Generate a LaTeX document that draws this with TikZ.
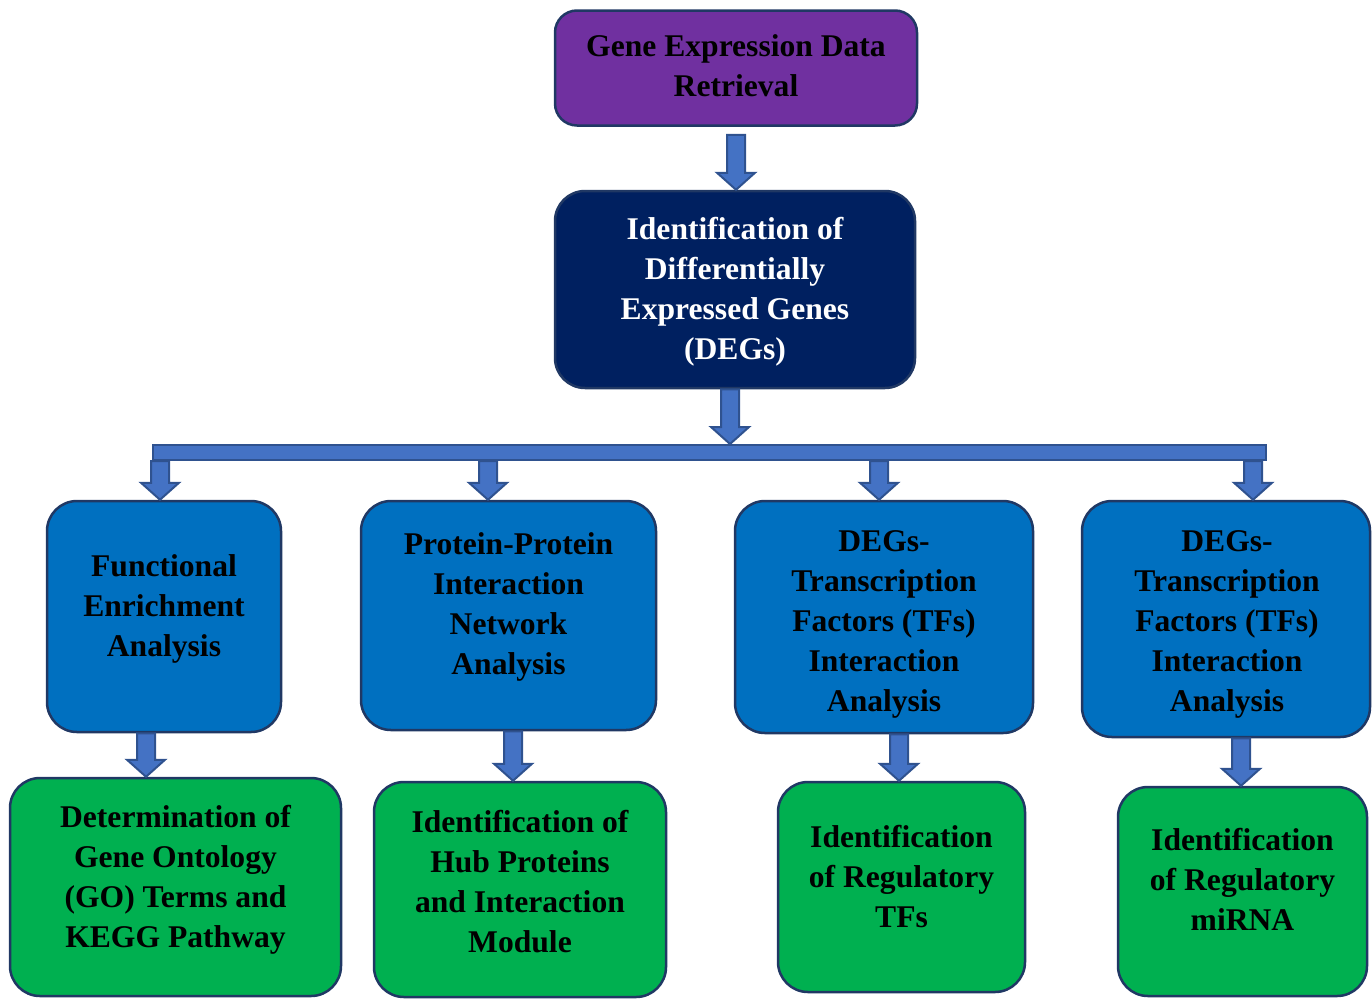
\documentclass[tikz,border=0pt]{standalone}
\usepackage{fontspec}
\setmainfont{Liberation Serif}
\usetikzlibrary{calc}
\definecolor{purp}{HTML}{7030A0}
\definecolor{navy}{HTML}{002060}
\definecolor{midblue}{HTML}{0070C0}
\definecolor{grn}{HTML}{00B050}
\definecolor{edge}{HTML}{203864}
\definecolor{arrfill}{HTML}{4472C4}
\definecolor{arredge}{HTML}{2F528F}
\tikzset{
  box/.style={draw=edge, line width=2.5pt, rounded corners=30pt, inner sep=0pt},
  txt/.style={align=center, font=\bfseries\fontsize{31.6}{40}\selectfont, inner sep=0pt, text=black},
  blk/.style={fill=arrfill, draw=arredge, line width=2pt, line join=miter},
}
\newcommand\blockarr[2]{\draw[blk] let \p1=(#1), \p2=(#2) in
  (\x1-9pt,\y1) -- (\x1+9pt,\y1) -- (\x1+9pt,\y2+17pt) -- (\x1+19pt,\y2+17pt)
  -- (\x1,\y2) -- (\x1-19pt,\y2+17pt) -- (\x1-9pt,\y2+17pt) -- cycle;}
\begin{document}
\begin{tikzpicture}[x=1pt,y=-1pt]
\useasboundingbox (0,0) rectangle (1372,999);
% top boxes
\node[box, fill=purp, rounded corners=22pt, minimum width=362pt, minimum height=115pt] (ret) at (736,68) {};
\node[txt] (rett) at (736,66) {Gene Expression Data\\Retrieval};
\node[box, fill=navy, minimum width=360pt, minimum height=197pt] (deg) at (735,289.5) {};
\node[txt, text=white] (degt) at (735,292) {Identification of\\Differentially\\Expressed Genes\\(DEGs)};
% bar
\node[blk, inner sep=0pt, minimum width=1113pt, minimum height=15pt] (bar) at (709.5,452.5) {};
% blue boxes
\node[box, fill=midblue, minimum width=234pt, minimum height=231pt] (fa) at (164,616.5) {};
\node[txt] (fat) at (164,609) {Functional\\Enrichment\\Analysis};
\node[box, fill=midblue, minimum width=295pt, minimum height=229pt] (fb) at (508.5,615.5) {};
\node[txt] (fbt) at (508.5,607) {Protein-Protein\\Interaction\\Network\\Analysis};
\node[box, fill=midblue, minimum width=298pt, minimum height=232pt] (fc) at (884,617) {};
\node[txt] (fct) at (884,624.5) {DEGs-\\Transcription\\Factors (TFs)\\Interaction\\Analysis};
\node[box, fill=midblue, minimum width=288pt, minimum height=236pt] (fd) at (1226,619) {};
\node[txt] (fdt) at (1227,624.5) {DEGs-\\Transcription\\Factors (TFs)\\Interaction\\Analysis};
% green boxes
\node[box, fill=grn, minimum width=331pt, minimum height=218pt] (ga) at (175.5,887) {};
\node[txt] (gat) at (175.5,880) {Determination of\\Gene Ontology\\(GO) Terms and\\KEGG Pathway};
\node[box, fill=grn, minimum width=292pt, minimum height=215pt] (gb) at (520,889.5) {};
\node[txt] (gbt) at (520,882) {Identification of\\Hub Proteins\\and Interaction\\Module};
\node[box, fill=grn, minimum width=247pt, minimum height=210pt] (gc) at (901.5,887) {};
\node[txt] (gct) at (901.5,877) {Identification\\of Regulatory\\TFs};
\node[box, fill=grn, minimum width=249pt, minimum height=209pt] (gd) at (1242.5,891.5) {};
\node[txt] (gdt) at (1242.5,879) {Identification\\of Regulatory\\miRNA};
% arrows
\blockarr{$(736,0 |- ret.south)+(0,8)$}{736,0 |- deg.north}
\blockarr{730,0 |- deg.south}{730,0 |- bar.north}
\blockarr{160,0 |- bar.south}{160,0 |- fa.north}
\blockarr{488,0 |- bar.south}{488,0 |- fb.north}
\blockarr{879,0 |- bar.south}{879,0 |- fc.north}
\blockarr{1253,0 |- bar.south}{1253,0 |- fd.north}
\blockarr{146,0 |- fa.south}{146,0 |- ga.north}
\blockarr{513,0 |- fb.south}{513,0 |- gb.north}
\blockarr{899,0 |- fc.south}{899,0 |- gc.north}
\blockarr{1241,0 |- fd.south}{1241,0 |- gd.north}
\end{tikzpicture}
\end{document}
